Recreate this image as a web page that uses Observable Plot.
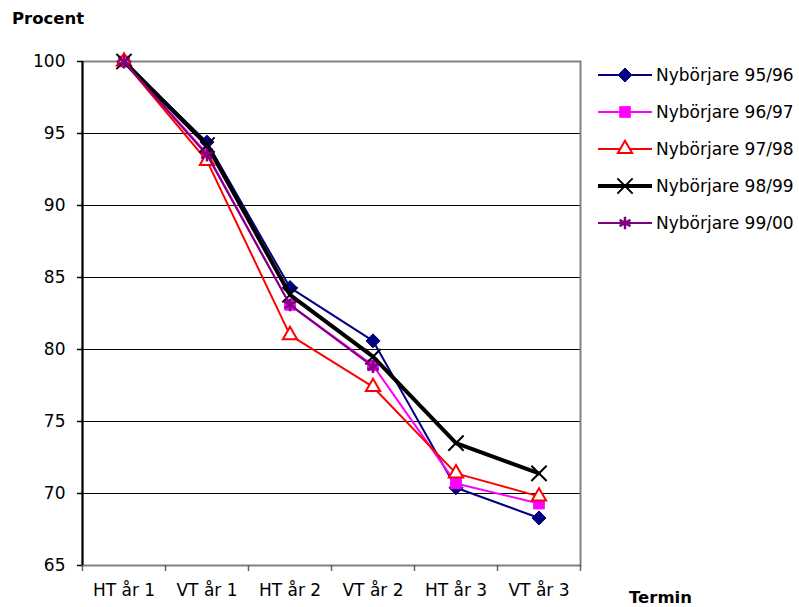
<!DOCTYPE html>
<html>
<head>
<meta charset="utf-8">
<script src="https://cdn.jsdelivr.net/npm/d3@7"></script>
<script src="https://cdn.jsdelivr.net/npm/@observablehq/plot@0.6"></script>
<style>
  body { margin: 0; background: #fff; }
  #chart { width: 799px; height: 607px; }
</style>
</head>
<body>
<div id="chart"></div>
<script>
// Terms (x categories) and y ticks
const terms = ["HT år 1", "VT år 1", "HT år 2", "VT år 2", "HT år 3", "VT år 3"];
const yTicks = [65, 70, 75, 80, 85, 90, 95, 100];

// Share of students remaining (percent) per cohort
const seriesNames = ["Nybörjare 95/96", "Nybörjare 96/97", "Nybörjare 97/98", "Nybörjare 98/99", "Nybörjare 99/00"];
const n9596 = [100, 94.4, 84.3, 80.6, 70.4, 68.3];
const n9697 = [100, 93.6, 83.1, 78.9, 70.7, 69.3];
const n9798 = [100, 93.1, 81.0, 77.4, 71.4, 69.8];
const n9899 = [100, 94.2, 83.8, 79.5, 73.5, 71.4];
const n9900 = [100, 93.5, 83.1, 78.8];

// Drawing style per cohort
const styles = [
  {color: "#000080", symbol: "diamond2", width: 2, r: 6.3, fill: "#000080", sw: 1},
  {color: "#ff00ff", symbol: "square",   width: 2, r: 6.0, fill: "#ff00ff", sw: 1},
  {color: "#ff0000", symbol: "triangle", width: 2, r: 5.3, fill: "white",   sw: 2},
  {color: "#000000", symbol: "times",    width: 4, r: 7.0, fill: "none",    sw: 2},
  {color: "#800080", symbol: "asterisk", width: 2, r: 6.0, fill: "none",    sw: 2.5}
];
const values = [n9596, n9697, n9798, n9899, n9900];

const series = seriesNames.map((name, k) => ({
  name,
  ...styles[k],
  rows: values[k].map((v, i) => ({x: i + 0.5, y: v}))
}));

const font = "'DejaVu Sans', sans-serif";

const seriesMarks = series.flatMap(s => [
  Plot.line(s.rows, {x: "x", y: "y", stroke: s.color, strokeWidth: s.width}),
  Plot.dot(s.rows, {x: "x", y: "y", symbol: s.symbol, r: s.r, fill: s.fill, stroke: s.color, strokeWidth: s.sw})
]);

const chart = Plot.plot({
  width: 799,
  height: 607,
  marginLeft: 82,
  marginRight: 219,
  marginTop: 61,
  marginBottom: 42,
  style: {fontFamily: font, fontSize: "17px", background: "white", color: "black"},
  x: {type: "linear", domain: [0, 6], axis: null},
  y: {domain: [65, 100], axis: null},
  marks: [
    Plot.ruleY(yTicks.filter(v => v > 65 && v < 100), {stroke: "black", strokeWidth: 1}),
    Plot.frame({stroke: "#808080", strokeWidth: 2}),
    Plot.ruleX([0], {stroke: "black", strokeWidth: 2}),
    Plot.axisY({ticks: yTicks, tickSize: 5, tickPadding: 12, label: null, stroke: "black", strokeWidth: 1.5}),
    Plot.axisX({ticks: d3.range(7), tickSize: 6, tickFormat: () => "", label: null, stroke: "#606060", strokeWidth: 1.5}),
    Plot.axisX({ticks: terms.map((_, i) => i + 0.5), tickSize: 0, tickPadding: 18, label: null,
                tickFormat: d => terms[Math.floor(d)]}),
    ...seriesMarks
  ]
});

const svg = d3.select(chart);

// Axis titles
svg.append("text").attr("x", 12).attr("y", 24).attr("text-anchor", "start")
  .attr("font-family", font).attr("font-size", 16.5).attr("font-weight", "bold")
  .text("Procent");
svg.append("text").attr("x", 629).attr("y", 603).attr("text-anchor", "start")
  .attr("font-family", font).attr("font-size", 16.5).attr("font-weight", "bold")
  .text("Termin");

// Legend: line swatch with marker, then cohort name
const symbolTypes = {
  diamond2: d3.symbolDiamond2, square: d3.symbolSquare, triangle: d3.symbolTriangle,
  times: d3.symbolTimes, asterisk: d3.symbolAsterisk
};
const legend = svg.append("g").attr("transform", "translate(598,75)");
series.forEach((s, i) => {
  const g = legend.append("g").attr("transform", `translate(0,${i * 37})`);
  g.append("line").attr("x1", 0).attr("x2", 54).attr("y1", 0).attr("y2", 0)
    .attr("stroke", s.color).attr("stroke-width", s.width);
  g.append("path").attr("transform", "translate(27,0)")
    .attr("d", d3.symbol(symbolTypes[s.symbol], Math.PI * s.r * s.r)())
    .attr("fill", s.fill).attr("stroke", s.color).attr("stroke-width", s.sw);
  g.append("text").attr("x", 58).attr("y", 0).attr("dy", "0.35em").attr("text-anchor", "start")
    .attr("font-family", font).attr("font-size", 17)
    .text(s.name);
});

document.getElementById("chart").appendChild(chart);
</script>
</body>
</html>
